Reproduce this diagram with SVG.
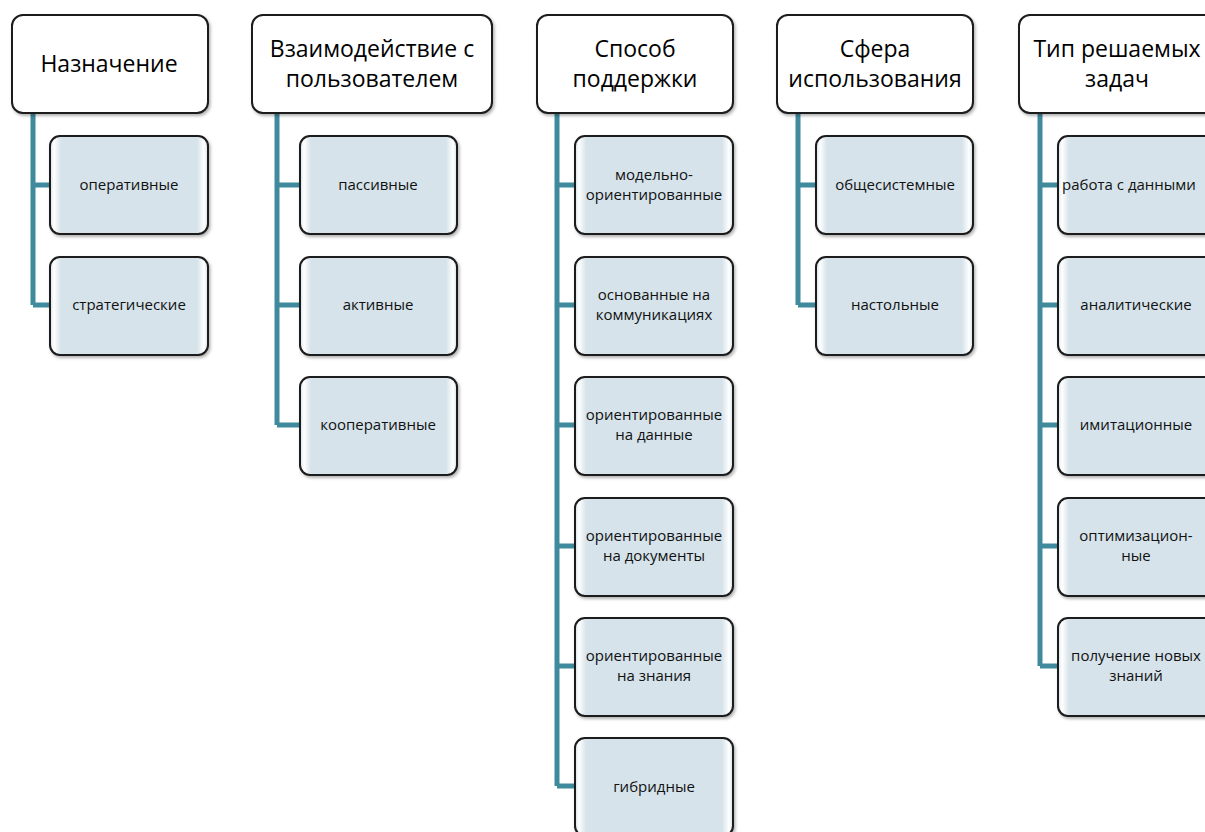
<svg xmlns="http://www.w3.org/2000/svg" width="1205" height="832" viewBox="0 0 1205 832">
<defs>
<linearGradient id="gl" x1="0" y1="0" x2="1" y2="0">
<stop offset="0" stop-color="#D3E1E9"/>
<stop offset="0.025" stop-color="#FFFFFF"/>
<stop offset="0.07" stop-color="#D6E3EA"/>
<stop offset="0.93" stop-color="#D6E3EA"/>
<stop offset="0.975" stop-color="#FFFFFF"/>
<stop offset="1" stop-color="#D3E1E9"/>
</linearGradient>
<filter id="sh" x="-10%" y="-10%" width="125%" height="125%">
<feDropShadow dx="1.5" dy="2" stdDeviation="1.5" flood-color="#000" flood-opacity="0.3"/>
</filter>
</defs>
<style>
.hdr{fill:#fff;stroke:#1a1a1a;stroke-width:2;filter:url(#sh)}
.ch{fill:url(#gl);stroke:#1a1a1a;stroke-width:2;filter:url(#sh)}
.ht{font-family:"Open Sans","Noto Sans",sans-serif;font-size:23px;fill:#000;text-anchor:middle}
.ct{font-family:"Open Sans","Noto Sans",sans-serif;font-size:15px;fill:#111;text-anchor:middle}
.ln{fill:none;stroke:#3F8A9D;stroke-width:5}
</style>
<g id="connectors">
<path class="ln" d="M33 113V305M33 185H50M33 305H50"/>
<path class="ln" d="M277 113V425M277 185H300M277 305H300M277 425H300"/>
<path class="ln" d="M557 113V786M557 185H575M557 305H575M557 425H575M557 546H575M557 666H575M557 786H575"/>
<path class="ln" d="M798 113V305M798 185H816M798 305H816"/>
<path class="ln" d="M1040 113V666M1040 185H1058M1040 305H1058M1040 425H1058M1040 546H1058M1040 666H1058"/>
</g>
<g id="h1"><rect class="hdr" x="12" y="15" width="196" height="98" rx="11"/><text class="ht" x="109" y="72">Назначение</text></g>
<g id="h2"><rect class="hdr" x="252" y="15" width="240" height="98" rx="11"/><text class="ht" x="372" y="57">Взаимодействие с</text><text class="ht" x="372" y="87">пользователем</text></g>
<g id="h3"><rect class="hdr" x="537" y="15" width="196" height="98" rx="11"/><text class="ht" x="635" y="57">Способ</text><text class="ht" x="635" y="87">поддержки</text></g>
<g id="h4"><rect class="hdr" x="777" y="15" width="196" height="98" rx="11"/><text class="ht" x="875" y="57">Сфера</text><text class="ht" x="875" y="87">использования</text></g>
<g id="h5"><rect class="hdr" x="1019" y="15" width="198" height="98" rx="11"/><text class="ht" x="1117" y="57">Тип решаемых</text><text class="ht" x="1117" y="87">задач</text></g>

<g id="c1a"><rect class="ch" x="50" y="136" width="158" height="98" rx="10"/><text class="ct" x="129" y="190">оперативные</text></g>
<g id="c1b"><rect class="ch" x="50" y="257" width="158" height="98" rx="10"/><text class="ct" x="129" y="310">стратегические</text></g>

<g id="c2a"><rect class="ch" x="300" y="136" width="157" height="98" rx="10"/><text class="ct" x="378" y="190">пассивные</text></g>
<g id="c2b"><rect class="ch" x="300" y="257" width="157" height="98" rx="10"/><text class="ct" x="378" y="310">активные</text></g>
<g id="c2c"><rect class="ch" x="300" y="377" width="157" height="98" rx="10"/><text class="ct" x="378" y="430">кооперативные</text></g>

<g id="c3a"><rect class="ch" x="575" y="136" width="158" height="98" rx="10"/><text class="ct" x="654" y="180">модельно-</text><text class="ct" x="654" y="200">ориентированные</text></g>
<g id="c3b"><rect class="ch" x="575" y="257" width="158" height="98" rx="10"/><text class="ct" x="654" y="300">основанные на</text><text class="ct" x="654" y="320">коммуникациях</text></g>
<g id="c3c"><rect class="ch" x="575" y="377" width="158" height="98" rx="10"/><text class="ct" x="654" y="420">ориентированные</text><text class="ct" x="654" y="440">на данные</text></g>
<g id="c3d"><rect class="ch" x="575" y="498" width="158" height="98" rx="10"/><text class="ct" x="654" y="541">ориентированные</text><text class="ct" x="654" y="561">на документы</text></g>
<g id="c3e"><rect class="ch" x="575" y="618" width="158" height="98" rx="10"/><text class="ct" x="654" y="661">ориентированные</text><text class="ct" x="654" y="681">на знания</text></g>
<g id="c3f"><rect class="ch" x="575" y="738" width="158" height="98" rx="10"/><text class="ct" x="654" y="792">гибридные</text></g>

<g id="c4a"><rect class="ch" x="816" y="136" width="157" height="98" rx="10"/><text class="ct" x="895" y="190">общесистемные</text></g>
<g id="c4b"><rect class="ch" x="816" y="257" width="157" height="98" rx="10"/><text class="ct" x="895" y="310">настольные</text></g>

<g id="c5a"><rect class="ch" x="1058" y="136" width="158" height="98" rx="10"/><text class="ct" x="1129" y="190">работа с данными</text></g>
<g id="c5b"><rect class="ch" x="1058" y="257" width="158" height="98" rx="10"/><text class="ct" x="1136" y="310">аналитические</text></g>
<g id="c5c"><rect class="ch" x="1058" y="377" width="158" height="98" rx="10"/><text class="ct" x="1136" y="430">имитационные</text></g>
<g id="c5d"><rect class="ch" x="1058" y="498" width="158" height="98" rx="10"/><text class="ct" x="1136" y="541">оптимизацион-</text><text class="ct" x="1136" y="561">ные</text></g>
<g id="c5e"><rect class="ch" x="1058" y="618" width="158" height="98" rx="10"/><text class="ct" x="1136" y="661">получение новых</text><text class="ct" x="1136" y="681">знаний</text></g>
</svg>
